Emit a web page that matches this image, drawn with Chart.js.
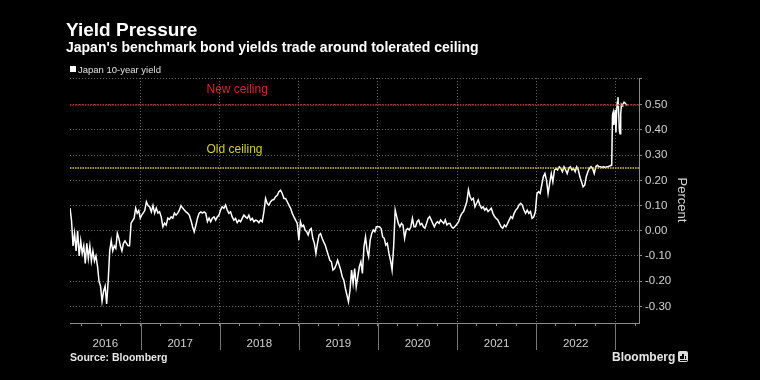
<!DOCTYPE html>
<html>
<head>
<meta charset="utf-8">
<script src="https://cdn.jsdelivr.net/npm/chart.js@4.4.0/dist/chart.umd.min.js"></script>
<style>
  html, body { margin: 0; background: #000; }
  #wrap { position: relative; width: 760px; height: 380px; overflow: hidden;
          font-family: 'Liberation Sans', Arial, sans-serif; }
  #wrap canvas { position: absolute; left: 0; top: 0; }
  .txt { position: absolute; white-space: nowrap; line-height: 1; color: #fff; }
  #title    { left: 66px; top: 20px; font-size: 19px; font-weight: bold; }
  #subtitle { left: 66px; top: 40px; font-size: 14px; font-weight: bold; }
  #legend   { left: 78px; top: 64.5px; font-size: 9.5px; color: #e0e0e0; }
  #legend-box { position: absolute; left: 70px; top: 66px; width: 6px; height: 6px; background: #fff; }
  #source   { left: 70px; top: 352px; font-size: 10.5px; font-weight: bold; color: #e6e6e6; }
  #brand    { left: 612px; top: 350.5px; font-size: 12px; font-weight: bold; color: #e6e6e6; }
  #brand-icon { position: absolute; left: 678px; top: 351px; width: 10px; height: 11px;
                background: #dcdcdc; border-radius: 2px; }
  #brand-icon i { position: absolute; bottom: 3px; width: 1.5px; background: #000; }
  #brand-icon b { position: absolute; left: 1.5px; right: 1.5px; bottom: 1.5px; height: 1px; background: #000; }
</style>
</head>
<body>
<div id="wrap">
  <canvas id="chart" width="760" height="380"></canvas>
  <div class="txt" id="title">Yield Pressure</div>
  <div class="txt" id="subtitle">Japan's benchmark bond yields trade around tolerated ceiling</div>
  <div id="legend-box"></div>
  <div class="txt" id="legend">Japan 10-year yield</div>
  <div class="txt" id="source">Source: Bloomberg</div>
  <div class="txt" id="brand">Bloomberg</div>
  <div id="brand-icon"><i style="left:2px;height:3px"></i><i style="left:4.3px;height:5px"></i><i style="left:6.6px;height:3.5px"></i><b></b></div>
</div>
<script>
/* ── DATA ───────────────────────────────────────────────────────── */
const YEAR_LABELS = ['2016', '2017', '2018', '2019', '2020', '2021', '2022'];
const Y_TICKS = [-0.3, -0.2, -0.1, 0, 0.1, 0.2, 0.3, 0.4, 0.5];
const NEW_CEILING = 0.5;
const OLD_CEILING = 0.25;

// Japan 10-year yield, roughly weekly
const y2016 = [0.09, 0.04, -0.06, -0.01, -0.08, 0.00, -0.10, -0.04, -0.09, -0.06, -0.13, -0.05,
  -0.11, -0.06, -0.12, -0.08, -0.12, -0.10, -0.14, -0.20, -0.22, -0.28, -0.24, -0.22, -0.29, -0.20,
  -0.08, -0.04, -0.08, -0.06, -0.07, -0.01, -0.03, -0.06, -0.08, -0.05, -0.04, -0.05, -0.06, -0.06,
  0.03, 0.04, 0.05, 0.09, 0.07, 0.08, 0.05];
const y2017 = [0.06, 0.07, 0.08, 0.115, 0.10, 0.095, 0.075, 0.10, 0.07, 0.09, 0.07, 0.075, 0.055,
  0.016, 0.03, 0.022, 0.05, 0.045, 0.055, 0.05, 0.07, 0.062, 0.07, 0.082, 0.10, 0.09, 0.082, 0.075,
  0.07, 0.062, 0.042, 0.016, -0.004, 0.022, 0.05, 0.07, 0.075, 0.07, 0.075, 0.07, 0.036, 0.05,
  0.036, 0.05, 0.055, 0.042, 0.055, 0.062];
const y2018 = [0.082, 0.095, 0.089, 0.102, 0.082, 0.069, 0.075, 0.055, 0.042, 0.049, 0.032, 0.042,
  0.036, 0.049, 0.062, 0.055, 0.049, 0.062, 0.042, 0.049, 0.036, 0.042, 0.04, 0.032, 0.042, 0.036,
  0.075, 0.128, 0.108, 0.102, 0.115, 0.122, 0.124, 0.135, 0.141, 0.155, 0.161, 0.148, 0.128, 0.128,
  0.115, 0.102, 0.089, 0.069, 0.055, 0.042, 0.029];
const y2019 = [-0.037, 0.036, 0.016, 0.022, 0.003, -0.004, -0.017, 0.003, 0.009, -0.030, -0.050,
  -0.090, -0.050, -0.017, -0.011, -0.030, -0.044, -0.057, -0.077, -0.097, -0.117, -0.123, -0.156,
  -0.150, -0.136, -0.117, -0.136, -0.156, -0.183, -0.196, -0.229, -0.255, -0.282, -0.236, -0.156,
  -0.209, -0.150, -0.222, -0.183, -0.143, -0.123, -0.169, -0.064, -0.024, -0.077, -0.103, -0.037,
  -0.011, 0.003, -0.004, 0.016];
const y2020 = [0.016, 0.009, -0.024, -0.030, -0.057, -0.050, -0.090, -0.117, -0.156, -0.064, 0.082,
  0.055, 0.029, 0.016, 0.029, 0.022, -0.030, 0.003, 0.009, 0.003, 0.016, 0.049, 0.016, 0.016,
  0.036, 0.043, 0.023, 0.029, 0.016, 0.010, 0.029, 0.049, 0.056, 0.043, 0.029, 0.016, 0.029, 0.036,
  0.029, 0.043, 0.036, 0.029, 0.043, 0.023, 0.029, 0.029, 0.016, 0.010, 0.016, 0.023];
const y2021 = [0.036, 0.056, 0.069, 0.076, 0.095, 0.115, 0.162, 0.135, 0.122, 0.129, 0.095, 0.109,
  0.122, 0.102, 0.089, 0.095, 0.082, 0.089, 0.076, 0.082, 0.089, 0.069, 0.056, 0.049, 0.043, 0.029,
  0.016, 0.010, 0.023, 0.016, 0.029, 0.043, 0.056, 0.049, 0.069, 0.082, 0.089, 0.102, 0.109, 0.102,
  0.082, 0.069, 0.082, 0.069, 0.076, 0.049, 0.055, 0.075];
const y2022 = [0.148, 0.155, 0.148, 0.181, 0.214, 0.227, 0.201, 0.148, 0.188, 0.227, 0.194, 0.241,
  0.247, 0.241, 0.254, 0.247, 0.234, 0.254, 0.241, 0.227, 0.247, 0.254, 0.241, 0.247, 0.234, 0.254,
  0.241, 0.214, 0.194, 0.174, 0.181, 0.214, 0.234, 0.247, 0.254, 0.247, 0.227, 0.254, 0.260, 0.254,
  0.254, 0.251, 0.254, 0.250, 0.254, 0.254, 0.258, 0.260];
// after the band was widened (20 Dec 2022 onwards), near daily
const yLate = [0.46, 0.47, 0.42, 0.45, 0.48, 0.39, 0.47, 0.51, 0.53, 0.47, 0.40, 0.385, 0.46,
  0.50, 0.495, 0.50, 0.505, 0.51, 0.51, 0.505, 0.50, 0.50, 0.50];

// first and last date of each block, in fractional years
const blocks = [y2016, y2017, y2018, y2019, y2020, y2021, y2022, yLate];
const spans = [[2016.107, 2016.995], [2017.01, 2017.99], [2018.01, 2018.98], [2019.0, 2019.98],
  [2020.02, 2020.99], [2021.02, 2021.99], [2022.01, 2022.955], [2022.965, 2023.155]];

const X_MIN = 2016.107, X_MAX = 2023.30;
const Y_MIN = -0.366, Y_MAX = 0.606;

/* ── STYLE ──────────────────────────────────────────────────────── */
const FONT = "'Liberation Sans', Arial, sans-serif";
const GRID = '#666';
const AXIS = '#8c8c8c';
const LABEL = '#d2d2d2';

const points = blocks.flatMap((vals, b) => {
  const [s0, s1] = spans[b];
  return vals.map((v, i) => ({ x: s0 + (s1 - s0) * i / (vals.length - 1), y: v }));
});

// quarter ticks along the time axis
const quarters = [];
for (let q = 2016.25; q <= X_MAX; q += 0.25) quarters.push(q);

/* ── DECORATION: ceilings, year labels, axis title ──────────────── */
const decor = {
  id: 'decor',
  afterDatasetsDraw(chart) {
    const { ctx, chartArea: a, scales: { y } } = chart;
    ctx.save();
    ctx.lineWidth = 1.5;
    ctx.setLineDash([1.5, 1]);
    [[NEW_CEILING, '#c42030'], [OLD_CEILING, '#d4cc3a']].forEach(([v, c]) => {
      const py = Math.round(y.getPixelForValue(v));
      ctx.strokeStyle = c;
      ctx.beginPath();
      ctx.moveTo(a.left, py);
      ctx.lineTo(a.right, py);
      ctx.stroke();
    });
    ctx.setLineDash([]);
    ctx.font = `12px ${FONT}`;
    ctx.textBaseline = 'middle';
    ctx.fillStyle = '#d02a2e';
    ctx.fillText('New ceiling', a.left + 136.5, 90);
    ctx.fillStyle = '#d2cc40';
    ctx.fillText('Old ceiling', a.left + 136.5, 149.5);
    ctx.restore();
  },
  afterDraw(chart) {
    const { ctx, chartArea: a, scales: { x } } = chart;
    ctx.save();
    // year separators below the axis
    ctx.strokeStyle = '#777';
    ctx.lineWidth = 1;
    for (let yr = 2017; yr <= 2023; yr++) {
      const px = Math.round(x.getPixelForValue(yr)) + 0.5;
      ctx.beginPath();
      ctx.moveTo(px, a.bottom);
      ctx.lineTo(px, a.bottom + 27);
      ctx.stroke();
    }
    // year labels centred in each visible year
    ctx.font = `11.5px ${FONT}`;
    ctx.fillStyle = LABEL;
    ctx.textAlign = 'center';
    ctx.textBaseline = 'middle';
    YEAR_LABELS.forEach(lbl => {
      const yr = +lbl;
      const l = Math.max(a.left, x.getPixelForValue(yr));
      const r = Math.min(a.right, x.getPixelForValue(yr + 1));
      ctx.fillText(lbl, (l + r) / 2, a.bottom + 21);
    });
    // axis title, rotated clockwise
    ctx.font = `13px ${FONT}`;
    ctx.translate(682, 200);
    ctx.rotate(Math.PI / 2);
    ctx.fillText('Percent', 0, 0);
    ctx.restore();
  }
};

/* ── CHART ──────────────────────────────────────────────────────── */
new Chart(document.getElementById('chart'), {
  type: 'line',
  data: {
    datasets: [{
      label: 'Japan 10-year yield',
      data: points,
      borderColor: '#fff',
      borderWidth: 1.5,
      pointRadius: 0,
      tension: 0,
      fill: false,
    }]
  },
  options: {
    responsive: false,
    animation: false,
    devicePixelRatio: 1,
    layout: { padding: { left: 70, top: 78, right: 71, bottom: 53 } },
    plugins: { legend: { display: false }, tooltip: { enabled: false } },
    scales: {
      x: {
        type: 'linear', min: X_MIN, max: X_MAX,
        afterBuildTicks: s => { s.ticks = quarters.map(v => ({ value: v })); },
        afterFit: s => { s.height = 4; },
        ticks: { display: false },
        grid: {
          color: c => (c.tick && Number.isInteger(c.tick.value)) ? GRID : 'transparent',
          tickColor: AXIS, tickLength: 3,
        },
        border: { color: AXIS, dash: [1, 2] },
      },
      y: {
        position: 'right', min: Y_MIN, max: Y_MAX,
        afterBuildTicks: s => { s.ticks = Y_TICKS.concat(Y_MAX).map(v => ({ value: v })); },
        afterFit: s => { s.width = 50; },
        ticks: {
          color: LABEL, padding: 3,
          font: { family: FONT, size: 11.5 },
          callback: v => v > 0.55 ? '' : v.toFixed(2),
        },
        grid: { color: GRID, tickColor: AXIS, tickLength: 3 },
        border: { color: AXIS, dash: [1, 2] },
      }
    }
  },
  plugins: [decor]
});
</script>
</body>
</html>
